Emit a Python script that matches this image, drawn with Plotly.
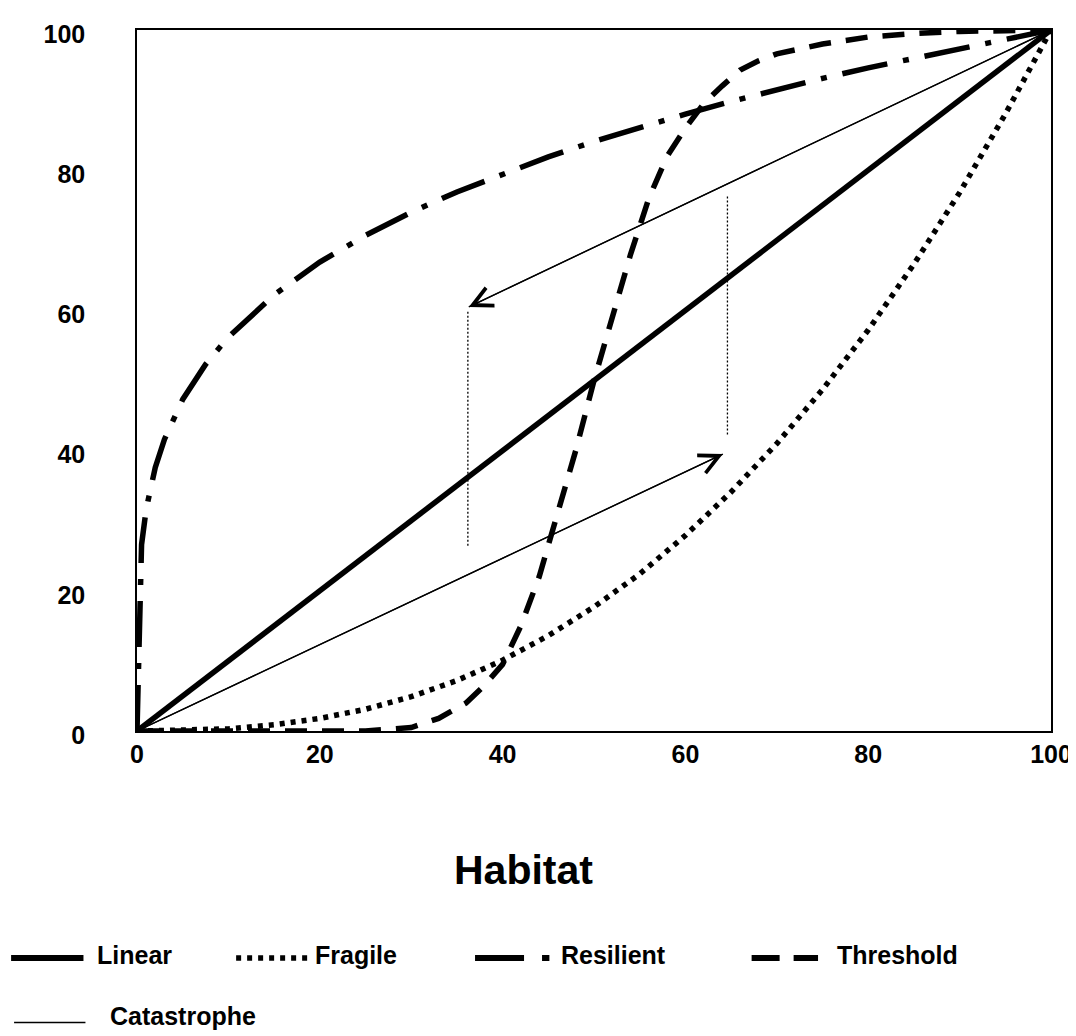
import plotly.graph_objects as go

# ---------------- data ----------------
x_linear = [0, 10, 20, 30, 40, 50, 60, 70, 80, 90, 100]
y_linear = [0, 10, 20, 30, 40, 50, 60, 70, 80, 90, 100]

x_fragile = [0, 5, 10, 15, 20, 25, 30, 35, 40, 45, 50, 55, 60, 65, 70, 75, 80, 85, 90, 95, 100]
y_fragile = [0, 0.06, 0.3, 0.9, 1.8, 3.1, 4.9, 7.2, 10.1, 13.6, 17.7, 22.4, 27.9, 34.1, 41.0, 48.7, 57.2, 66.6, 76.8, 88.0, 100]

x_resilient = [0, 0.5, 1, 2, 3, 5, 7.5, 10, 15, 20, 25, 30, 35, 40, 45, 50, 55, 60, 65, 70, 75, 80, 85, 90, 95, 100]
y_resilient = [0, 26.6, 31.6, 37.6, 41.6, 47.3, 52.3, 56.2, 62.2, 66.9, 70.7, 74.0, 76.9, 79.5, 81.9, 84.1, 86.1, 88.0, 89.8, 91.5, 93.1, 94.6, 96.0, 97.4, 98.7, 100]

x_threshold = [0, 5, 10, 15, 20, 25, 30, 33, 36, 38, 40, 42, 44, 46, 48, 50, 52, 54, 56, 58, 60, 62, 64, 66, 68, 70, 75, 80, 85, 90, 95, 100]
y_threshold = [0, 0, 0, 0, 0, 0, 0.5, 1.8, 4, 6.5, 9.5, 15, 22, 31, 40, 50, 59, 68, 76, 82, 86, 89.5, 92, 94.3, 95.6, 96.6, 98, 99, 99.5, 99.8, 99.9, 100]

# catastrophe paths (tail -> arrow tip)
cat_low_x = [0, 64.1]
cat_low_y = [0, 39.5]
cat_high_x = [100, 36.3]
cat_high_y = [100, 60.5]
# dotted vertical jumps (start -> arrow tip)
jump_down_x = [36.2, 36.2]
jump_down_y = [59.8, 26.3]
jump_up_x = [64.6, 64.6]
jump_up_y = [42.3, 76.4]

x_ticks = [0, 20, 40, 60, 80, 100]
y_ticks = [0, 20, 40, 60, 80, 100]

legend_labels = ["Linear", "Fragile", "Resilient", "Threshold", "Catastrophe"]
x_title = "Habitat"

# ---------------- figure ----------------
FONT = "Liberation Sans, Arial, sans-serif"
fig = go.Figure()

fig.add_trace(go.Scatter(x=x_fragile, y=y_fragile, mode="lines",
                         line=dict(color="black", width=5.5, dash="5px,6px"), showlegend=False))
fig.add_trace(go.Scatter(x=x_resilient, y=y_resilient, mode="lines",
                         line=dict(color="black", width=5.5, dash="46px,16px,6px,16px"), showlegend=False))
fig.add_trace(go.Scatter(x=x_threshold, y=y_threshold, mode="lines",
                         line=dict(color="black", width=5.5, dash="22px,15px"), showlegend=False))
fig.add_trace(go.Scatter(x=x_linear, y=y_linear, mode="lines",
                         line=dict(color="black", width=5.5), showlegend=False))
for cx, cy in [(cat_low_x, cat_low_y), (cat_high_x, cat_high_y)]:
    fig.add_trace(go.Scatter(x=cx, y=cy, mode="lines",
                             line=dict(color="black", width=1.4), showlegend=False))
for jx, jy in [(jump_down_x, jump_down_y), (jump_up_x, jump_up_y)]:
    fig.add_trace(go.Scatter(x=jx, y=jy, mode="lines",
                             line=dict(color="black", width=1.3, dash="2px,2px"), showlegend=False))

annotations = []
# arrow heads on catastrophe lines
for cx, cy in [(cat_low_x, cat_low_y), (cat_high_x, cat_high_y)]:
    annotations.append(dict(x=cx[1], y=cy[1], ax=cx[0], ay=cy[0], xref="x", yref="y",
                            axref="x", ayref="y", showarrow=True, arrowhead=5,
                            arrowsize=3.2, arrowwidth=1.2, arrowcolor="black", text=""))
# arrow heads on dotted jumps (short stem)
for jx, jy in [(jump_down_x, jump_down_y), (jump_up_x, jump_up_y)]:
    d = 1 if jy[1] > jy[0] else -1
    annotations.append(dict(x=jx[1], y=jy[1], ax=jx[1], ay=jy[1] - d * 1.0, xref="x", yref="y",
                            axref="x", ayref="y", showarrow=True, arrowhead=5,
                            arrowsize=3.2, arrowwidth=1.1, arrowcolor="black", text=""))

# ---------------- page-pixel helpers (plot area: x 137..1059, y 24..731) ----------------
def px(v):
    return (v - 137) / 922

def py(v):
    return (731 - v) / 707

# axis title
annotations.append(dict(x=px(527), y=py(871), xref="paper", yref="paper",
                        text=x_title, showarrow=False, xanchor="center", yanchor="middle",
                        font=dict(family=FONT, size=41, color="black", weight="bold")))

# ---------------- custom legend ----------------
shapes = []
row1_line, row1_text = 960, 957
row2_line, row2_text = 1025, 1018
legend_specs = [
    # label, x0, x1, text_x, row_line, row_text, width, dash
    (legend_labels[0], 10, 83, 95, row1_line, row1_text, 6, "solid"),
    (legend_labels[1], 237, 312, 315, row1_line, row1_text, 5.5, "5px,6px"),
    (legend_labels[2], 478, 553, 563, row1_line, row1_text, 6, "49px,18px,8px,40px"),
    (legend_labels[3], 757, 824, 841, row1_line, row1_text, 6, "28px,14px"),
    (legend_labels[4], 13, 85, 108, row2_line, row2_text, 1.5, "solid"),
]
for lab, x0, x1, tx, ly, ty, w, dash in legend_specs:
    shapes.append(dict(type="line", xref="paper", yref="paper", x0=px(x0), x1=px(x1),
                       y0=py(ly), y1=py(ly), line=dict(color="black", width=w, dash=dash)))
    annotations.append(dict(x=px(tx), y=py(ty), xref="paper", yref="paper", text=lab,
                            showarrow=False, xanchor="left", yanchor="middle",
                            font=dict(family=FONT, size=25, color="black", weight="bold")))

# The page body has an 8px default margin, so the figure is offset by 8px.
fig.update_layout(
    width=1076, height=1036, autosize=False,
    margin=dict(l=129, r=25, t=16, b=313),
    plot_bgcolor="white", paper_bgcolor="white",
    showlegend=False,
    annotations=annotations,
    shapes=shapes,
    xaxis=dict(range=[0, 100], tickvals=x_ticks, ticktext=[str(v) for v in x_ticks],
               showgrid=False, zeroline=False, showline=True, mirror=True,
               linecolor="black", linewidth=1.5, ticks="", ticklabelstandoff=0,
               tickfont=dict(family=FONT, size=25, color="black", weight="bold")),
    yaxis=dict(range=[0, 100], tickvals=y_ticks, ticktext=[str(v) for v in y_ticks],
               showgrid=False, zeroline=False, showline=True, mirror=True,
               linecolor="black", linewidth=1.5, ticks="", ticklabelstandoff=45,
               ticklabelshift=4,
               tickfont=dict(family=FONT, size=25, color="black", weight="bold")),
)

fig.write_html("out.html", config=dict(displayModeBar=False))
